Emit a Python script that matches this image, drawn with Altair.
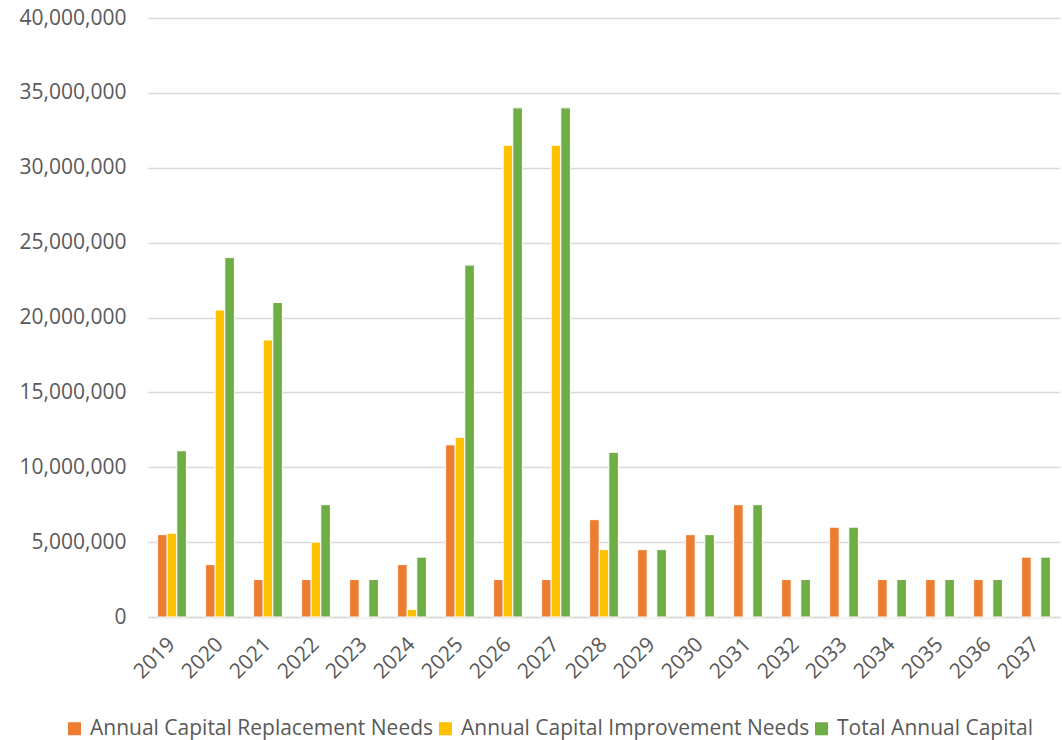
import altair as alt
import pandas as pd

years = [str(y) for y in range(2019, 2038)]
replacement = [5.5, 3.5, 2.5, 2.5, 2.5, 3.5, 11.5, 2.5, 2.5, 6.5, 4.5, 5.5, 7.5, 2.5, 6.0, 2.5, 2.5, 2.5, 4.0]
improvement = [5.6, 20.5, 18.5, 5.0, 0.0, 0.5, 12.0, 31.5, 31.5, 4.5, 0, 0, 0, 0, 0, 0, 0, 0, 0]
total = [11.1, 24.0, 21.0, 7.5, 2.5, 4.0, 23.5, 34.0, 34.0, 11.0, 4.5, 5.5, 7.5, 2.5, 6.0, 2.5, 2.5, 2.5, 4.0]

series_names = ["Annual Capital Replacement Needs", "Annual Capital Improvement Needs", "Total Annual Capital"]
colors = ["#ED7D31", "#FFC000", "#70AD47"]
y_ticks = [0, 5000000, 10000000, 15000000, 20000000, 25000000, 30000000, 35000000, 40000000]

rows = []
for name, vals in zip(series_names, [replacement, improvement, total]):
    for yr, v in zip(years, vals):
        rows.append({"year": yr, "series": name, "value": v * 1_000_000})
df = pd.DataFrame(rows)

font = "Open Sans"

chart = alt.Chart(df).mark_bar(stroke="white", strokeWidth=1).encode(
    x=alt.X("year:N", sort=years, title=None,
            scale=alt.Scale(paddingInner=0.4, paddingOuter=0.2),
            axis=alt.Axis(labelAngle=-45, labelAlign="right", labelBaseline="middle",
                          labelFontSize=21, labelColor="#595959", labelFont=font,
                          labelPadding=24, ticks=False, domainColor="#d9d9d9",
                          domainWidth=1.5, grid=False)),
    xOffset=alt.XOffset("series:N", scale=alt.Scale(domain=series_names)),
    y=alt.Y("value:Q", title=None,
            scale=alt.Scale(domain=[0, 40000000], nice=False),
            axis=alt.Axis(values=y_ticks, format=",d", labelFontSize=21,
                          labelColor="#595959", labelFont=font, labelPadding=22,
                          ticks=False, domain=False, gridColor="#d9d9d9",
                          gridWidth=1.5)),
    color=alt.Color("series:N", scale=alt.Scale(domain=series_names, range=colors),
                    legend=alt.Legend(title=None, orient="none", direction="horizontal",
                                      legendX=-84, legendY=700,
                                      symbolType="square", symbolSize=170,
                                      symbolStrokeWidth=0, labelOffset=5,
                                      labelFontSize=21, labelColor="#595959",
                                      labelFont=font, columnPadding=1,
                                      labelLimit=500)),
).properties(
    width=912, height=599,
    autosize=alt.AutoSizeParams(type="none"),
    padding={"left": 148, "top": 18, "right": 2, "bottom": 123},
).configure(background="white").configure_view(stroke=None)

chart.save("out.html", embed_options={"renderer": "svg", "actions": False})
